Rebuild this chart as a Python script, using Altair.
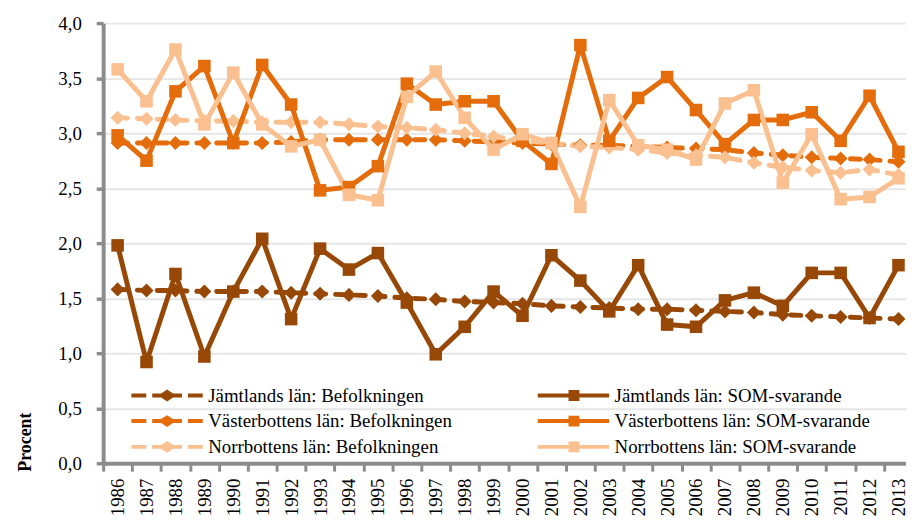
import altair as alt
import pandas as pd

years = list(range(1986, 2014))

jamt_bef = [1.58, 1.57, 1.57, 1.56, 1.56, 1.56, 1.55, 1.54, 1.53, 1.52, 1.50, 1.49, 1.47, 1.46,
            1.45, 1.43, 1.42, 1.41, 1.40, 1.40, 1.39, 1.38, 1.37, 1.35, 1.34, 1.33, 1.32, 1.31]
vast_bef = [2.91, 2.91, 2.91, 2.91, 2.91, 2.91, 2.92, 2.94, 2.94, 2.94, 2.94, 2.94, 2.93, 2.92,
            2.91, 2.90, 2.89, 2.89, 2.88, 2.87, 2.86, 2.85, 2.82, 2.80, 2.78, 2.77, 2.76, 2.74]
norr_bef = [3.14, 3.13, 3.12, 3.11, 3.11, 3.10, 3.10, 3.10, 3.08, 3.06, 3.05, 3.03, 3.00, 2.97,
            2.93, 2.91, 2.88, 2.87, 2.85, 2.82, 2.80, 2.78, 2.73, 2.69, 2.66, 2.64, 2.67, 2.62]
jamt_som = [1.98, 0.92, 1.72, 0.97, 1.56, 2.04, 1.31, 1.95, 1.76, 1.91, 1.46, 0.99, 1.24, 1.56,
            1.34, 1.89, 1.66, 1.38, 1.80, 1.26, 1.24, 1.48, 1.55, 1.43, 1.73, 1.73, 1.32, 1.80]
vast_som = [2.98, 2.75, 3.38, 3.61, 2.91, 3.62, 3.26, 2.48, 2.51, 2.70, 3.45, 3.26, 3.29, 3.29,
            2.93, 2.72, 3.80, 2.93, 3.32, 3.51, 3.21, 2.90, 3.12, 3.12, 3.19, 2.93, 3.34, 2.83]
norr_som = [3.58, 3.29, 3.76, 3.08, 3.55, 3.08, 2.88, 2.94, 2.44, 2.39, 3.33, 3.56, 3.14, 2.85,
            2.99, 2.91, 2.33, 3.30, 2.89, 2.85, 2.76, 3.27, 3.39, 2.55, 2.99, 2.40, 2.42, 2.59]

names = {
    "jb": "Jämtlands län: Befolkningen",
    "vb": "Västerbottens län: Befolkningen",
    "nb": "Norrbottens län: Befolkningen",
    "js": "Jämtlands län: SOM-svarande",
    "vs": "Västerbottens län: SOM-svarande",
    "ns": "Norrbottens län: SOM-svarande",
}
series_data = [("jb", jamt_bef, "Befolkningen"), ("vb", vast_bef, "Befolkningen"), ("nb", norr_bef, "Befolkningen"),
               ("js", jamt_som, "SOM"), ("vs", vast_som, "SOM"), ("ns", norr_som, "SOM")]

rows = []
for i, (key, vals, kind) in enumerate(series_data):
    for y, v in zip(years, vals):
        rows.append({"year": y, "value": v, "series": names[key], "kind": kind})
df = pd.DataFrame(rows)

# legend order (column-major in a 2-column legend)
legend_order = [names["jb"], names["vb"], names["nb"], names["js"], names["vs"], names["ns"]]
C_DARK, C_MID, C_LIGHT = "#974806", "#E46C0A", "#FAC090"
legend_colors = [C_DARK, C_MID, C_LIGHT, C_DARK, C_MID, C_LIGHT]

DASHED_SYM = ("M0,-2L15,-2L15,2L0,2Z "
              "M21,-2L30,-2L36,-6L42,-2L51,-2L51,2L42,2L36,6L30,2L21,2Z "
              "M57,-2L72,-2L72,2L57,2Z")
SOLID_SYM = "M0,-2L31,-2L31,-5.5L42,-5.5L42,-2L72,-2L72,2L42,2L42,5.5L31,5.5L31,2L0,2Z"
legend_shapes = [DASHED_SYM, DASHED_SYM, DASHED_SYM, SOLID_SYM, SOLID_SYM, SOLID_SYM]

FONT = "Liberation Serif"
AXIS_GRAY = "#8C8C8C"

color_scale = alt.Scale(domain=legend_order, range=legend_colors)

x_enc = alt.X(
    "year:O",
    scale=alt.Scale(type="band", paddingInner=0, paddingOuter=0),
    axis=alt.Axis(title=None, labelAngle=270, tickBand="extent", domainColor=AXIS_GRAY, domainWidth=4,
                  tickColor=AXIS_GRAY, tickWidth=3, tickSize=8, labelFont=FONT, labelFontSize=19,
                  labelPadding=7, labelColor="#000000", grid=False),
)
y_enc = alt.Y(
    "value:Q",
    scale=alt.Scale(domain=[0, 4], nice=False, zero=True),
    axis=alt.Axis(values=[0, 0.5, 1, 1.5, 2, 2.5, 3, 3.5, 4],
                  labelExpr="replace(format(datum.value, '.1f'), '.', ',')",
                  title="Procent", titleFont=FONT, titleFontWeight="bold", titleFontSize=18,
                  titleColor="#000000", titleAngle=270, titleAlign="left", titleBaseline="middle",
                  titleX=-78, titleY=452,
                  gridColor="#E6E6E6", gridWidth=2, domainColor=AXIS_GRAY, domainWidth=4,
                  tickColor=AXIS_GRAY, tickWidth=3.5, tickSize=7, labelPadding=15,
                  labelFont=FONT, labelFontSize=19, labelColor="#000000"),
)

base = alt.Chart(df)

bef_lines = base.transform_filter(alt.datum.kind == "Befolkningen").mark_line(
    strokeWidth=5, strokeCap="round", strokeJoin="round", strokeDash=[10, 10]
).encode(x=x_enc, y=y_enc, color=alt.Color("series:N", scale=color_scale, legend=None),
         order=alt.Order("year:O"))
bef_pts = base.transform_filter(alt.datum.kind == "Befolkningen").mark_point(
    filled=True, opacity=1, shape="diamond", size=200
).encode(x=x_enc, y=y_enc, color=alt.Color("series:N", scale=color_scale, legend=None))
som_lines = base.transform_filter(alt.datum.kind == "SOM").mark_line(
    strokeWidth=5, strokeCap="round", strokeJoin="round"
).encode(x=x_enc, y=y_enc, color=alt.Color("series:N", scale=color_scale, legend=None),
         order=alt.Order("year:O"))
som_pts = base.transform_filter(alt.datum.kind == "SOM").mark_point(
    filled=True, opacity=1, shape="square", size=160
).encode(x=x_enc, y=y_enc, color=alt.Color("series:N", scale=color_scale, legend=None))

legend_props = dict(title=None, orient="none", legendX=19, legendY=366, columns=2,
                    columnPadding=77, rowPadding=6, labelFont=FONT, labelFontSize=19,
                    labelColor="#000000", labelOffset=68, symbolSize=4,
                    symbolStrokeWidth=0, labelLimit=400)

legend_layer = base.transform_filter("false").mark_point(filled=True, opacity=1).encode(
    x=x_enc, y=y_enc,
    color=alt.Color("series:N", scale=color_scale, legend=alt.Legend(**legend_props)),
    shape=alt.Shape("series:N", scale=alt.Scale(domain=legend_order, range=legend_shapes),
                    legend=alt.Legend(**legend_props)),
)

chart = alt.layer(bef_lines, bef_pts, som_lines, som_pts, legend_layer).resolve_scale(
    color="independent", shape="independent"
).properties(
    width=817, height=444,
    autosize=alt.AutoSizeParams(type="none"),
    padding={"left": 96, "top": 13, "right": -7, "bottom": 52},
    background="white",
).configure_view(stroke=None)

chart.save("out.html", embed_options={"renderer": "svg", "actions": False})
